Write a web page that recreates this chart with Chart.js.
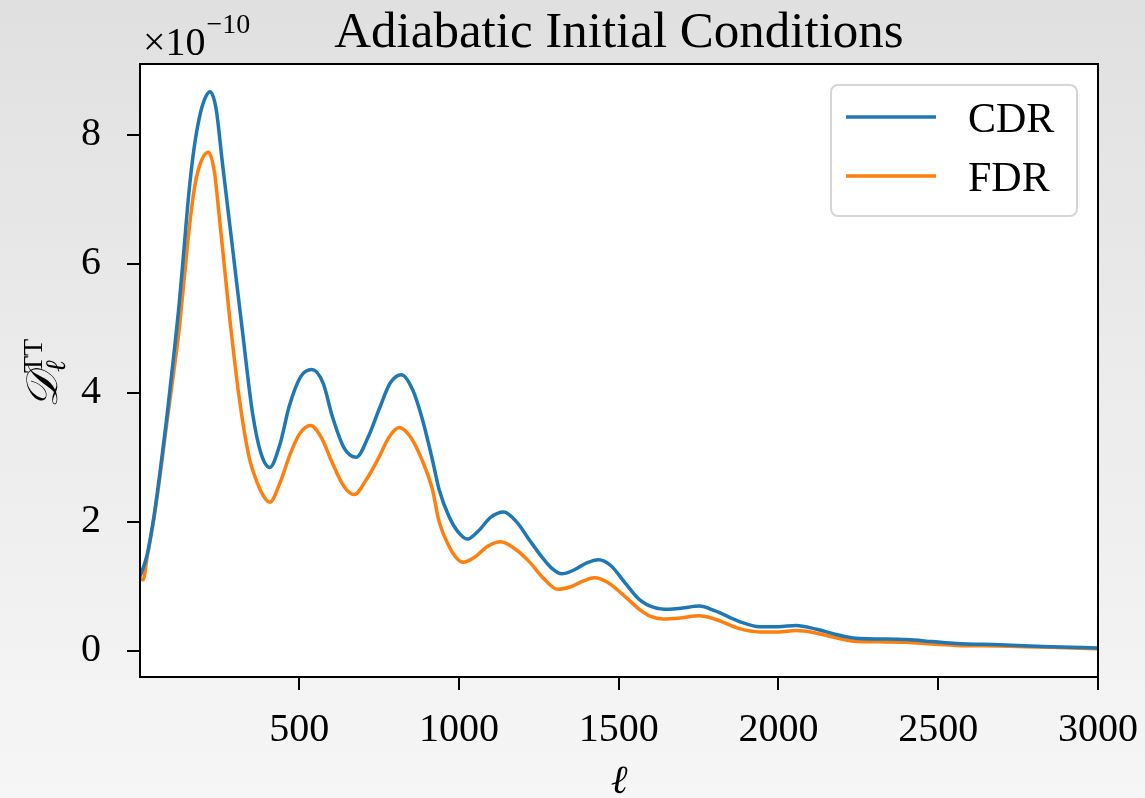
<!DOCTYPE html>
<html>
<head>
<meta charset="utf-8">
<style>
  html, body { margin: 0; padding: 0; }
  body {
    width: 1145px;
    height: 798px;
    background: linear-gradient(to bottom, #e0e0e0 0%, #ebebeb 45%, #f6f6f6 100%);
    overflow: hidden;
  }
  canvas { display: block; }
</style>
</head>
<body>
<canvas id="clChart" width="1145" height="798"></canvas>

<script src="https://cdn.jsdelivr.net/npm/chart.js"></script>
<script>
  // values are in units of 1e-10 (the axis shows the x10^-10 offset)
  const cdrEll = [2, 24, 45, 66, 86, 107, 125, 140, 155, 170, 187, 204, 221, 240, 260, 291, 322, 354, 380, 408,
    440, 469, 505, 540, 575, 604, 640, 679, 715, 750, 785, 820, 855, 885, 917, 938, 969, 996, 1027,
    1060, 1100, 1140, 1180, 1220, 1260, 1290, 1322, 1360, 1400, 1437, 1475, 1520, 1565, 1610, 1659,
    1700, 1752, 1800, 1878, 1940, 2000, 2055, 2120, 2180, 2243, 2320, 2400, 2480, 2556, 2692, 2850, 3000];
  const cdrVal = [1.15, 1.48, 2.06, 2.82, 3.62, 4.55, 5.4, 6.25, 7.1, 7.75, 8.25, 8.55, 8.67, 8.41, 7.56, 6.27, 4.98, 3.69, 3.07, 2.84,
    3.2, 3.79, 4.25, 4.36, 4.15, 3.63, 3.15, 3.0, 3.3, 3.74, 4.15, 4.28, 4.05, 3.6, 2.96, 2.5, 2.08, 1.85, 1.73,
    1.85, 2.07, 2.15, 2.0, 1.72, 1.45, 1.28, 1.19, 1.25, 1.36, 1.41, 1.32, 1.05, 0.79, 0.67, 0.64,
    0.66, 0.69, 0.62, 0.45, 0.37, 0.37, 0.39, 0.33, 0.25, 0.19, 0.18, 0.17, 0.14, 0.11, 0.09, 0.06, 0.04];

  const fdrEll = [2, 12, 24, 45, 66, 86, 107, 125, 140, 155, 170, 187, 216, 235, 249, 281, 312, 343, 369, 388, 408,
    440, 469, 500, 536, 570, 604, 640, 672, 710, 749, 780, 813, 850, 885, 917, 938, 969, 990, 1013,
    1050, 1090, 1131, 1175, 1220, 1265, 1309, 1350, 1390, 1424, 1465, 1515, 1565, 1600, 1638,
    1700, 1752, 1800, 1878, 1940, 2000, 2055, 2120, 2180, 2243, 2320, 2400, 2480, 2556, 2692, 2850, 3000];
  const fdrVal = [1.12, 1.1, 1.44, 2.03, 2.76, 3.53, 4.3, 5.0, 5.75, 6.5, 7.1, 7.5, 7.73, 7.42, 6.79, 5.24, 3.94, 3.01, 2.6, 2.4, 2.3,
    2.6, 3.01, 3.35, 3.49, 3.3, 2.91, 2.55, 2.42, 2.65, 2.99, 3.3, 3.46, 3.3, 2.95, 2.5, 2.0, 1.62, 1.45, 1.37,
    1.45, 1.62, 1.69, 1.58, 1.38, 1.12, 0.95, 0.99, 1.08, 1.13, 1.06, 0.86, 0.64, 0.53, 0.49,
    0.51, 0.54, 0.49, 0.34, 0.29, 0.29, 0.31, 0.27, 0.2, 0.14, 0.135, 0.13, 0.1, 0.08, 0.07, 0.05, 0.03];

  const xTicks = [500, 1000, 1500, 2000, 2500, 3000];
  const yTicks = [0, 2, 4, 6, 8];

  const serif = "'Liberation Serif', 'DejaVu Serif', serif";

  // plot background, frame, title, axis labels and legend
  const decorations = {
    id: "decorations",
    beforeDraw(chart) {
      const { ctx, chartArea: a } = chart;
      ctx.save();
      ctx.fillStyle = "#ffffff";
      ctx.fillRect(a.left, a.top, a.right - a.left, a.bottom - a.top);
      ctx.restore();
    },
    afterDraw(chart) {
      const { ctx, chartArea: a } = chart;
      ctx.save();

      // frame
      ctx.strokeStyle = "#000";
      ctx.lineWidth = 2;
      ctx.strokeRect(a.left, a.top, a.right - a.left, a.bottom - a.top);

      ctx.fillStyle = "#000";
      ctx.textBaseline = "alphabetic";

      // title
      ctx.font = "51px " + serif;
      ctx.textAlign = "center";
      ctx.fillText("Adiabatic Initial Conditions", (a.left + a.right) / 2, 47);

      // offset text
      ctx.textAlign = "left";
      ctx.font = "40px " + serif;
      ctx.fillText("\u00d710", 143, 55);
      const w = ctx.measureText("\u00d710").width;
      ctx.font = "28px " + serif;
      ctx.fillText("\u221210", 143 + w + 1, 33);

      // x label
      ctx.font = "italic 40px " + serif;
      ctx.textAlign = "center";
      ctx.fillText("\u2113", (a.left + a.right) / 2, 793);

      // y label
      ctx.save();
      ctx.translate(57, 372);
      ctx.rotate(-Math.PI / 2);
      ctx.textAlign = "left";
      ctx.font = "italic 44px " + serif;
      const dTxt = "\ud835\udc9f";
      const dw = ctx.measureText(dTxt).width;
      ctx.fillText(dTxt, -36, 0);
      ctx.font = "italic 28px " + serif;
      ctx.fillText("\u2113", -36 + dw + 1, 8);
      ctx.font = "28px " + serif;
      ctx.fillText("TT", -36 + dw, -15);
      ctx.restore();

      // legend
      const lx = 831, ly = 85, lw = 246, lh = 131, r = 7;
      ctx.beginPath();
      ctx.moveTo(lx + r, ly);
      ctx.arcTo(lx + lw, ly, lx + lw, ly + lh, r);
      ctx.arcTo(lx + lw, ly + lh, lx, ly + lh, r);
      ctx.arcTo(lx, ly + lh, lx, ly, r);
      ctx.arcTo(lx, ly, lx + lw, ly, r);
      ctx.closePath();
      ctx.fillStyle = "rgba(255,255,255,0.8)";
      ctx.fill();
      ctx.strokeStyle = "#d6d6d6";
      ctx.lineWidth = 2;
      ctx.stroke();

      ctx.font = "42px " + serif;
      ctx.textAlign = "left";
      chart.data.datasets.forEach((ds, i) => {
        const y = 117 + i * 59;
        ctx.strokeStyle = ds.borderColor;
        ctx.lineWidth = ds.borderWidth;
        ctx.beginPath();
        ctx.moveTo(846, y);
        ctx.lineTo(936, y);
        ctx.stroke();
        ctx.fillStyle = "#000";
        ctx.fillText(ds.label, 968, y + 15);
      });

      ctx.restore();
    },
  };

  const ctx = document.getElementById("clChart").getContext("2d");

  new Chart(ctx, {
    type: "line",
    data: {
      datasets: [
        {
          label: "CDR",
          data: cdrEll.map((l, i) => ({ x: l, y: cdrVal[i] })),
          borderColor: "#1f77b4",
          borderWidth: 3.5,
          pointRadius: 0,
          cubicInterpolationMode: "monotone",
          fill: false,
        },
        {
          label: "FDR",
          data: fdrEll.map((l, i) => ({ x: l, y: fdrVal[i] })),
          borderColor: "#ff7f0e",
          borderWidth: 3.5,
          pointRadius: 0,
          cubicInterpolationMode: "monotone",
          fill: false,
        },
      ],
    },
    options: {
      responsive: false,
      maintainAspectRatio: false,
      animation: false,
      layout: {
        padding: { left: 0, right: 47, top: 64, bottom: 0 },
      },
      plugins: {
        legend: { display: false },
        title: { display: false },
        tooltip: { enabled: false },
      },
      scales: {
        x: {
          type: "linear",
          min: 2,
          max: 3000,
          afterBuildTicks: (axis) => {
            axis.ticks = xTicks.map((v) => ({ value: v }));
          },
          afterFit: (axis) => {
            axis.height = 121;
            axis.paddingLeft = 0;
            axis.paddingRight = 0;
          },
          grid: {
            drawOnChartArea: false,
            drawTicks: true,
            tickLength: 13,
            color: "#000",
            lineWidth: 2,
          },
          border: { display: true, color: "#000", width: 2 },
          ticks: {
            color: "#000",
            font: { family: serif, size: 40 },
            padding: 16,
            maxRotation: 0,
            autoSkip: false,
            callback: (value) => String(value),
          },
        },
        y: {
          min: -0.41,
          max: 9.1,
          afterBuildTicks: (axis) => {
            axis.ticks = yTicks.map((v) => ({ value: v }));
          },
          afterFit: (axis) => {
            axis.width = 140;
            axis.paddingTop = 0;
            axis.paddingBottom = 0;
          },
          grid: {
            drawOnChartArea: false,
            drawTicks: true,
            tickLength: 13,
            color: "#000",
            lineWidth: 2,
          },
          border: { display: true, color: "#000", width: 2 },
          ticks: {
            color: "#000",
            font: { family: serif, size: 40 },
            padding: 26,
            autoSkip: false,
            callback: (value) => String(value),
          },
        },
      },
    },
    plugins: [decorations],
  });
</script>
</body>
</html>
